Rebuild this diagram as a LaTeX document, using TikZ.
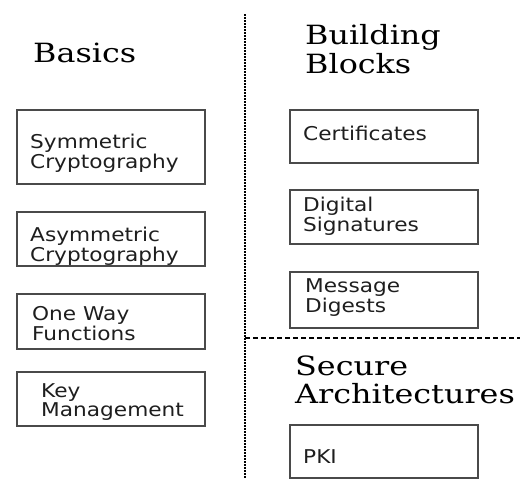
\documentclass[tikz,border=0pt]{standalone}
\usepackage{fontspec}
\usepackage{graphicx}
\newfontfamily\headfont{DejaVu Serif}
\newfontfamily\itemfont{DejaVu Sans}
\definecolor{ink}{HTML}{1E1E1E}
\definecolor{frame}{HTML}{4A4A4A}
\newcommand{\headtext}[1]{\scalebox{1.2}[1]{\headfont\fontsize{26.5}{28}\selectfont
  \begin{tabular}[t]{@{}l@{}}#1\end{tabular}}}
\newcommand{\itemtext}[1]{\scalebox{1.14}[1]{\itemfont\fontsize{19}{19.5}\selectfont
  \begin{tabular}[t]{@{}l@{}}#1\end{tabular}}}
\tikzset{
  x=1pt, y=-1pt,
  topic/.style={draw=frame, line width=1.3pt, rectangle, inner sep=0pt,
    minimum width=188pt},
  heading/.style={anchor=base west, inner sep=0pt, text=black},
  label/.style={anchor=base west, inner sep=0pt, text=ink},
  column rule/.style={line width=1.7pt, dash pattern=on 1.5pt off 1.5pt, black},
  row rule/.style={line width=1.1pt, dash pattern=on 5pt off 3pt, black},
}
\begin{document}
\begin{tikzpicture}
\useasboundingbox (0,0) rectangle (520,479);

% column and row separators
\coordinate (vtop) at (245,14);
\coordinate (vbot) at (245,479);
\coordinate (hl) at (245,338);
\coordinate (hr) at (520,338);
\draw[column rule] (vtop) -- (vbot);
\draw[row rule] (hl) -- (hr);

% headings
\node[heading] (basics) at (33,62) {\headtext{Basics}};
\node[heading] (blocks) at (305,45) {\headtext{Building\\Blocks}};
\node[heading] (arch) at (295,375) {\headtext{Secure\\Architectures}};

% left column
\node[topic, minimum height=74pt] (sym) at (111,147) {};
\node[label] (symt) at (30,148) {\itemtext{Symmetric\\Cryptography}};
\node[topic, minimum height=54pt] (asym) at (111,239) {};
\node[label] (asymt) at (30,241) {\itemtext{Asymmetric\\Cryptography}};
\node[topic, minimum height=55pt] (oneway) at (111,321.5) {};
\node[label] (onewayt) at (32,320) {\itemtext{One Way\\Functions}};
\node[topic, minimum height=54pt] (key) at (111,399) {};
\node[label] (keyt) at (41,397) {\itemtext{Key\\Management}};

% right column
\node[topic, minimum height=53pt] (cert) at (384,136.5) {};
\node[label] (certt) at (303,140) {\itemtext{Certificates}};
\node[topic, minimum height=54pt] (dig) at (384,217) {};
\node[label] (digt) at (303,211) {\itemtext{Digital\\Signatures}};
\node[topic, minimum height=56pt] (msg) at (384,300) {};
\node[label] (msgt) at (305,292) {\itemtext{Message\\Digests}};
\node[topic, minimum height=53pt] (pki) at (384,451.5) {};
\node[label] (pkit) at (303,463) {\itemtext{PKI}};
\end{tikzpicture}
\end{document}
